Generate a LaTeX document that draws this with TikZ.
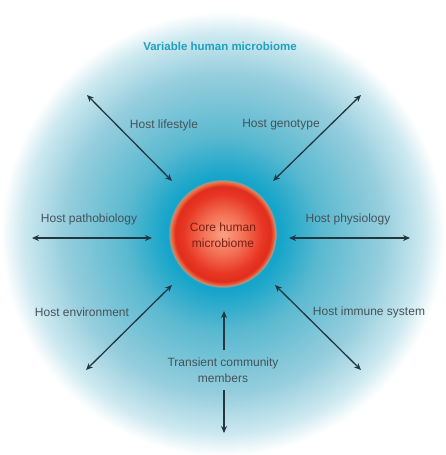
\documentclass[tikz,border=0pt]{standalone}
\usepackage{fontspec}
\setmainfont{Liberation Sans}
\usetikzlibrary{arrows.meta}
\definecolor{halo0}{RGB}{22,165,202}
\definecolor{halo1}{RGB}{90,185,208}
\definecolor{halo2}{RGB}{150,206,221}
\definecolor{halo3}{RGB}{205,233,240}
\definecolor{ball0}{RGB}{250,160,130}
\definecolor{ball1}{RGB}{243,112,85}
\definecolor{ball2}{RGB}{232,55,35}
\definecolor{ball3}{RGB}{224,45,30}
\definecolor{ball4}{RGB}{242,115,65}
\definecolor{arrowcol}{RGB}{35,55,65}
\definecolor{labcol}{RGB}{70,82,88}
\definecolor{titlecol}{RGB}{35,160,190}
\definecolor{corecol}{RGB}{120,30,20}
\pgfdeclareradialshading{halo}{\pgfpoint{0bp}{0bp}}{%
  color(0bp)=(halo0); color(6.5bp)=(halo0); color(11bp)=(halo1);
  color(18bp)=(halo2); color(22.5bp)=(halo3); color(25bp)=(white); color(50bp)=(white)}
\pgfdeclareradialshading{ball}{\pgfpoint{0bp}{0bp}}{%
  color(0bp)=(ball0); color(10bp)=(ball1); color(19bp)=(ball2);
  color(23bp)=(ball3); color(25bp)=(ball4); color(50bp)=(ball4)}
\begin{document}
\begin{tikzpicture}[x=1pt,y=-1pt,
  lab/.style={text=labcol,font=\fontsize{12}{16}\selectfont,inner sep=0pt,align=center},
  arr/.style={draw=arrowcol,line width=1.3pt,{Stealth[length=7pt,width=6pt]}-{Stealth[length=7pt,width=6pt]}},
  sarr/.style={draw=arrowcol,line width=1.3pt,-{Stealth[length=7pt,width=6pt]}}]
\useasboundingbox (0,0) rectangle (446,455);
\fill[white] (0,0) rectangle (446,455);
\shade[shading=halo] (223,234) circle[radius=222];
\draw[ball4!80,opacity=0.6,line width=2.5pt] (223,234) circle[radius=52.5];
\shade[shading=ball] (223,234) circle[radius=52];
\node[lab,text=corecol] (core) at (223,235) {Core human\\microbiome};
\node[lab,text=titlecol,font=\bfseries\fontsize{11.5}{14}\selectfont] (title) at (220,46) {Variable human microbiome};
\node[lab] (life) at (164,125) {Host lifestyle};
\node[lab] (geno) at (281,125) {Host genotype};
\node[lab] (patho) at (89,219) {Host pathobiology};
\node[lab] (phys) at (348,219) {Host physiology};
\node[lab] (env) at (82,312) {Host environment};
\node[lab] (imm) at (369,312) {Host immune system};
\node[lab] (trans) at (223,370) {Transient community\\members};
% arrow end points
\coordinate (ulA) at (87,95);   \coordinate (ulB) at (172,181);
\coordinate (urA) at (361,95);  \coordinate (urB) at (273,181);
\coordinate (lA) at (32,238);   \coordinate (lB) at (152,238);
\coordinate (rA) at (410,238);  \coordinate (rB) at (289,238);
\coordinate (llA) at (86,370);  \coordinate (llB) at (172,285);
\coordinate (lrA) at (361,370); \coordinate (lrB) at (275,285);
\coordinate (upA) at (224,350); \coordinate (upB) at (224,311);
\coordinate (dnA) at (224,390); \coordinate (dnB) at (224,433);
\draw[arr] (ulA) -- (ulB);
\draw[arr] (urA) -- (urB);
\draw[arr] (lA) -- (lB);
\draw[arr] (rA) -- (rB);
\draw[arr] (llA) -- (llB);
\draw[arr] (lrA) -- (lrB);
\draw[sarr] (upA) -- (upB);
\draw[sarr] (dnA) -- (dnB);
\end{tikzpicture}
\end{document}
